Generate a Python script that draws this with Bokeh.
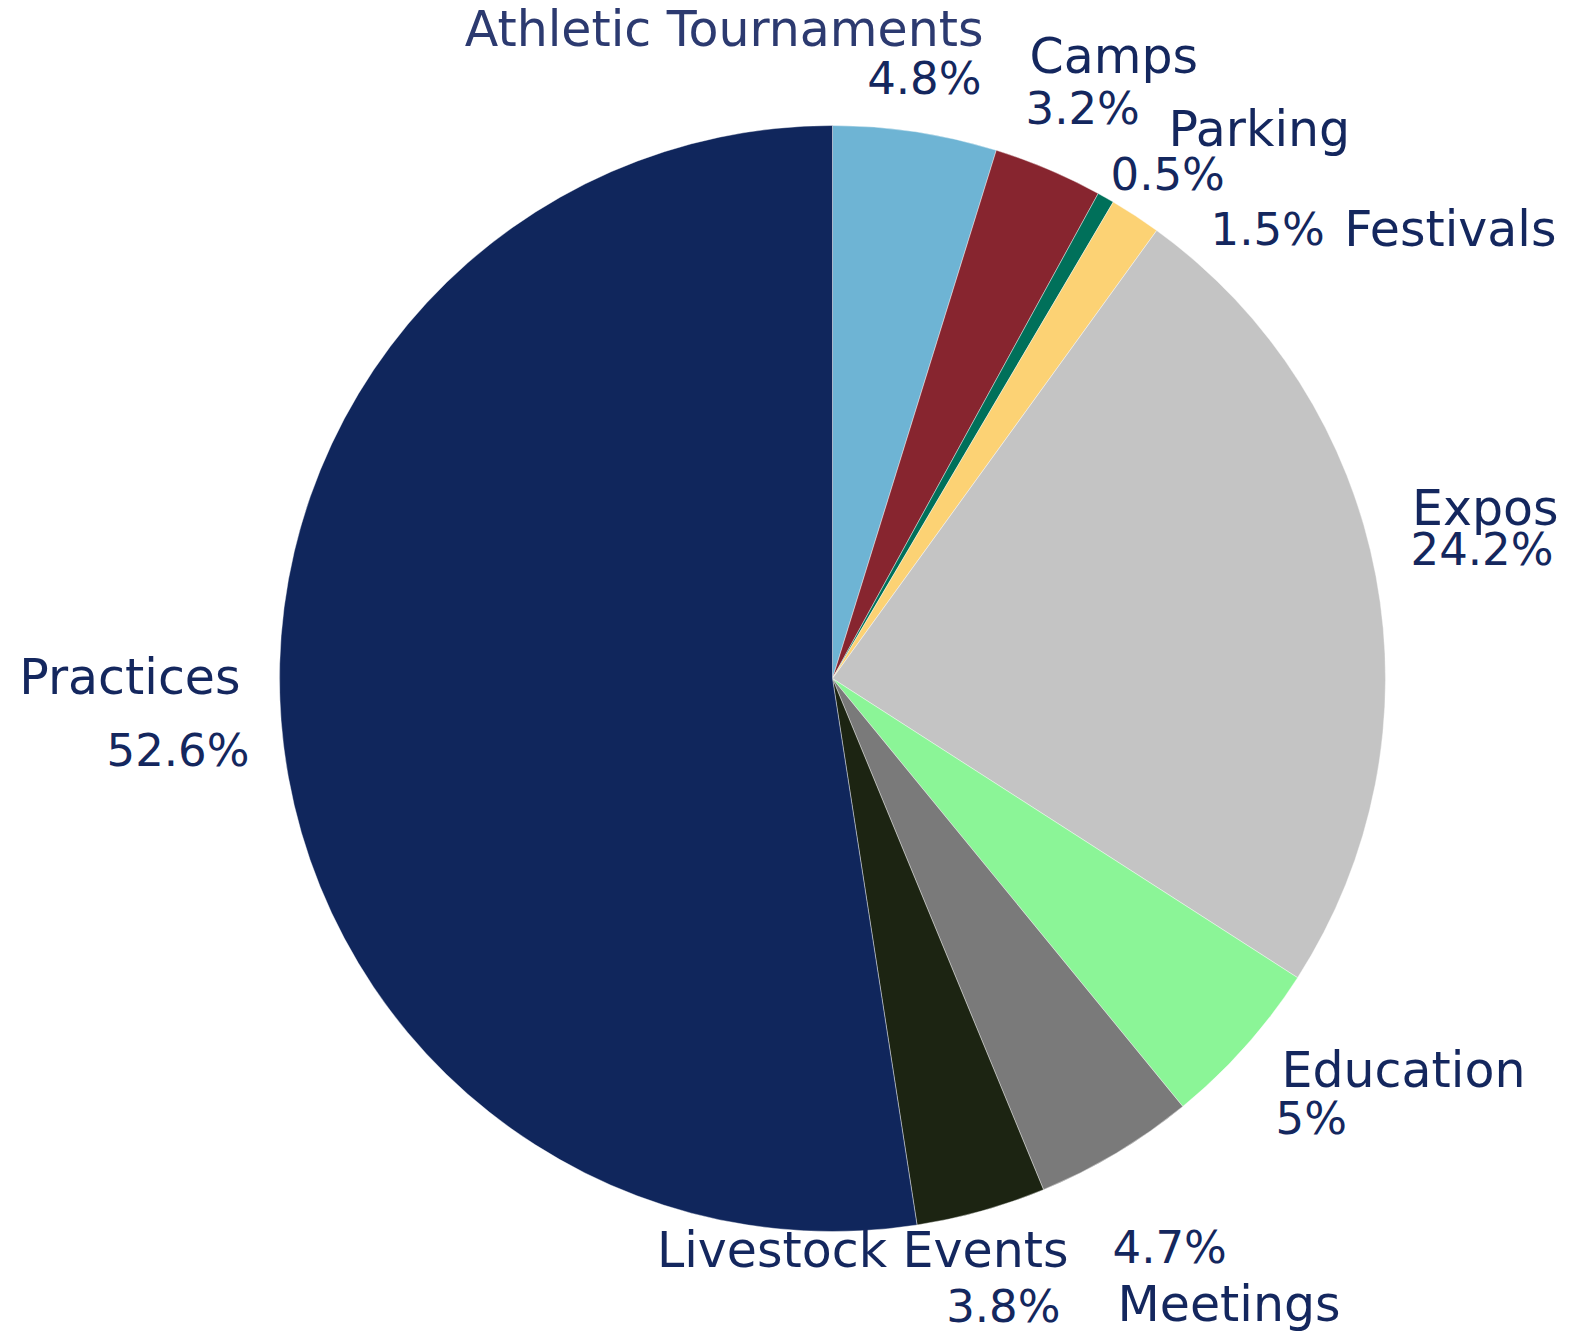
import math
from bokeh.plotting import figure
from bokeh.models import Range1d, ColumnDataSource
from bokeh.core.properties import value
from bokeh.embed import file_html
from bokeh.resources import INLINE

# ---- data ----
categories = ["Athletic Tournaments", "Camps", "Parking", "Festivals", "Expos",
              "Education", "Meetings", "Livestock Events", "Practices"]
shares = [4.8, 3.2, 0.5, 1.5, 24.2, 5.0, 4.7, 3.8, 52.6]
pct_labels = ["4.8%", "3.2%", "0.5%", "1.5%", "24.2%", "5%", "4.7%", "3.8%", "52.6%"]
colors = ["#6EB4D4", "#87252F", "#00705A", "#FCD274", "#C4C4C4",
          "#8BF597", "#7A7A7A", "#1C2412", "#10265C"]

# ---- layout (screen px) ----
W, H = 1561, 1334
TXT_DY = 17
def dx(sx): return sx
def dy(sy): return H - sy

CX, CY, R = 832, 678, 553
name_pos = [(983, 46, "right"), (1029, 73, "left"), (1168, 146, "left"), (1556, 246, "right"),
            (1558, 525, "right"), (1281, 1087, "left"), (1117, 1321, "left"),
            (1068, 1267, "right"), (240, 694, "right")]
pct_pos = [(981, 95, "right"), (1025, 125, "left"), (1110, 191, "left"), (1210, 246, "left"),
           (1553, 566, "right"), (1275, 1135, "left"), (1112, 1264, "left"),
           (1060, 1323, "right"), (249, 767, "right")]

total = sum(shares)
starts, ends = [], []
acc = 0.0
for v in shares:
    starts.append(math.pi / 2 - acc / total * 2 * math.pi)
    acc += v
    ends.append(math.pi / 2 - acc / total * 2 * math.pi)

p = figure(width=W, height=H, x_range=Range1d(0, W), y_range=Range1d(0, H),
           output_backend="svg", toolbar_location=None, min_border=0)
p.axis.visible = False
p.grid.visible = False
p.outline_line_color = None
p.background_fill_color = "white"
p.border_fill_color = "white"

src = ColumnDataSource(dict(x=[dx(CX)] * len(shares), y=[dy(CY)] * len(shares),
                            start=starts, end=ends, color=colors, cat=categories))
p.wedge(x="x", y="y", radius=R, start_angle="start", end_angle="end", direction="clock",
        fill_color="color", line_color="white", line_width=0.4, source=src)

txt_color = "#14275E"
for i, cat in enumerate(categories):
    nx, ny, na = name_pos[i]
    px, py, pa = pct_pos[i]
    col = "#2C3A70" if i == 0 else txt_color
    p.text(x=[dx(nx)], y=[dy(ny - TXT_DY)], text=[cat], text_align=na, text_baseline="alphabetic",
           text_font=value("DejaVu Sans"), text_font_size="49px", text_color=col)
    p.text(x=[dx(px)], y=[dy(py - TXT_DY)], text=[pct_labels[i]], text_align=pa,
           text_baseline="alphabetic",
           text_font=value("DejaVu Sans"), text_font_size="45px", text_color=txt_color)

open("out.html", "w").write(file_html(p, INLINE))
